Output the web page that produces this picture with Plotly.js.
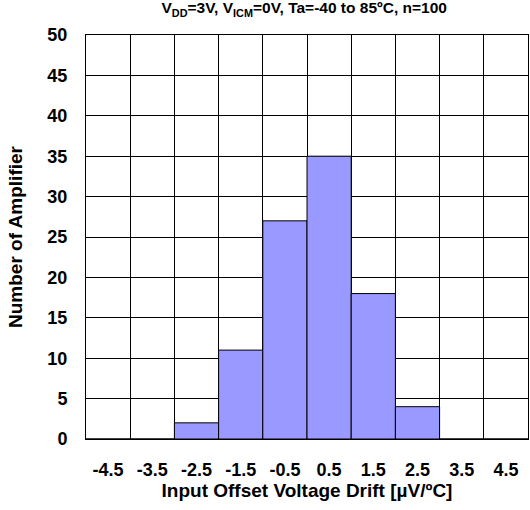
<!DOCTYPE html>
<html>
<head>
<meta charset="utf-8">
<script src="https://cdn.plot.ly/plotly-3.0.1.min.js"></script>
<style>body{margin:0;padding:0;background:#fff;}#chart{width:530px;height:510px;}</style>
</head>
<body>
<div id="chart"></div>
<script>
var categories = [-4.5, -3.5, -2.5, -1.5, -0.5, 0.5, 1.5, 2.5, 3.5, 4.5];
var tickLabels = ["-4.5", "-3.5", "-2.5", "-1.5", "-0.5", "0.5", "1.5", "2.5", "3.5", "4.5"];
var counts = [0, 0, 2, 11, 27, 35, 18, 4, 0, 0];
var binEdges = [-5, -4, -3, -2, -1, 0, 1, 2, 3, 4, 5];
var yTicks = [0, 5, 10, 15, 20, 25, 30, 35, 40, 45, 50];

var font = "Liberation Sans, Arial, sans-serif";

var trace = {
  type: "bar",
  x: categories,
  y: counts,
  width: 1,
  marker: {color: "#9999FF", line: {color: "#000000", width: 1}},
  hoverinfo: "x+y"
};

var layout = {
  width: 530, height: 510,
  margin: {l: 86, r: 2, t: 35, b: 71},
  paper_bgcolor: "#ffffff",
  plot_bgcolor: "#ffffff",
  showlegend: false,
  bargap: 0,
  title: {
    text: "<b>V<sub>DD</sub>=3V, V<sub>ICM</sub>=0V, Ta=-40 to 85ºC, n=100</b>",
    font: {family: font, size: 15.5, color: "#000"},
    x: 0.574, xanchor: "center", y: 0.995, yanchor: "top"
  },
  xaxis: {
    range: [-5, 5],
    tickmode: "array",
    tickvals: categories,
    ticktext: tickLabels,
    ticks: "",
    showgrid: false,
    zeroline: false,
    showline: true, mirror: true, linecolor: "#000", linewidth: 1,
    minor: {tickmode: "array", tickvals: binEdges, showgrid: true, gridcolor: "#000", gridwidth: 1, ticks: ""},
    tickfont: {family: font, size: 18, color: "#000", weight: "bold"},
    ticklabelstandoff: 14,
    title: {text: "<b>Input Offset Voltage Drift [µV/ºC]</b>", font: {family: font, size: 19, color: "#000"}, standoff: 5}
  },
  yaxis: {
    range: [0, 50],
    tickmode: "array",
    tickvals: yTicks,
    ticks: "",
    showgrid: true, gridcolor: "#000", gridwidth: 1,
    zeroline: false,
    showline: true, mirror: true, linecolor: "#000", linewidth: 1,
    tickfont: {family: font, size: 18, color: "#000", weight: "bold"},
    ticklabelstandoff: 14,
    title: {text: "<b>Number of Amplifier</b>", font: {family: font, size: 19, color: "#000"}, standoff: 19}
  }
};

Plotly.newPlot("chart", [trace], layout, {displayModeBar: false, staticPlot: true});
</script>
</body>
</html>
